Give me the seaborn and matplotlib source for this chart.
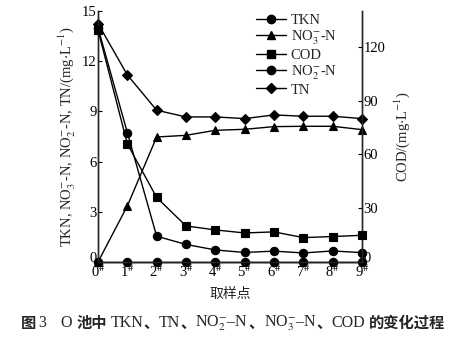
import matplotlib
matplotlib.use('Agg')
import matplotlib.pyplot as plt
import matplotlib.transforms as mtransforms
import seaborn as sns
import pandas as pd

# ---- data ----
sites = ['0', '1', '2', '3', '4', '5', '6', '7', '8', '9']
tkn = [14.0, 7.73, 1.54, 1.05, 0.72, 0.57, 0.65, 0.54, 0.66, 0.56]
no3 = [0.0, 3.35, 7.47, 7.57, 7.87, 7.93, 8.09, 8.11, 8.11, 7.91]
cod = [129.4, 65.9, 36.0, 20.1, 17.9, 16.2, 16.8, 13.6, 14.2, 14.9]
no2 = [0.0, 0.0, 0.0, 0.0, 0.0, 0.0, 0.0, 0.0, 0.0, 0.0]
tn = [14.25, 11.18, 9.07, 8.67, 8.67, 8.57, 8.79, 8.71, 8.71, 8.57]
left_ticks = [0, 3, 6, 9, 12, 15]
right_ticks = [0, 30, 60, 90, 120]

sns.set_theme(style='ticks')
plt.rcParams['font.family'] = ['Liberation Serif', 'Noto Sans CJK SC']
plt.rcParams['mathtext.fontset'] = 'stix'
plt.rcParams['xtick.direction'] = 'in'
plt.rcParams['ytick.direction'] = 'in'

xpos = list(range(len(sites)))
df = pd.DataFrame({'x': xpos, 'TKN': tkn, 'NO3': no3, 'COD': cod, 'NO2': no2, 'TN': tn})

fig = plt.figure(figsize=(4.66, 3.46), dpi=100)
ax = fig.add_axes([98/466, 1-262/346, (362-98)/466, (262-11)/346])
ax2 = ax.twinx()

kw = dict(color='black', linewidth=1.0, clip_on=False, markeredgewidth=0.8,
          markeredgecolor='black')
sns.lineplot(data=df, x='x', y='NO2', ax=ax, marker='o', markersize=6, zorder=3, **kw)
sns.lineplot(data=df, x='x', y='TKN', ax=ax, marker='o', markersize=6, zorder=4, **kw)
sns.lineplot(data=df, x='x', y='NO3', ax=ax, marker='^', markersize=6, zorder=4, **kw)
sns.lineplot(data=df, x='x', y='TN', ax=ax, marker='D', markersize=5.5, zorder=4, **kw)
sns.lineplot(data=df, x='x', y='COD', ax=ax2, marker='s', markersize=6, zorder=4, **kw)

ax.set_xlim(0, 9)
ax.set_ylim(0, 15)
ax2.set_ylim(0, 140)
ax.set_yticks(left_ticks)
ax.set_yticklabels([str(t) for t in left_ticks])
ax2.set_yticks(right_ticks)
ax2.set_yticklabels([str(t) for t in right_ticks])
ax.set_xticks(xpos)
ax.set_xticklabels([s + r'$^{\#}$' for s in sites])

for a in (ax, ax2):
    a.spines['top'].set_visible(False)
    a.spines['left'].set_linewidth(1.0)
    a.spines['right'].set_linewidth(1.0)
    a.spines['bottom'].set_linewidth(1.0)
    a.tick_params(labelsize=10.5, length=3, width=0.8, pad=1, colors='black')
ax.tick_params(axis='x', pad=1)

# lift the "0" labels slightly, as in the reference
shift = mtransforms.ScaledTranslation(0, 5/100, fig.dpi_scale_trans)
for lab in (ax.get_yticklabels()[0], ax2.get_yticklabels()[0]):
    lab.set_transform(lab.get_transform() + shift)

ax.set_xlabel('取样点', fontsize=10, family=['Noto Sans CJK SC'], labelpad=5)
ax.set_ylabel(r'TKN, NO$_3^{-}$-N, NO$_2^{-}$-N, TN/(mg$\cdot$L$^{-1}$)', fontsize=10.5, labelpad=3)
ax2.set_ylabel(r'COD/(mg$\cdot$L$^{-1}$)', fontsize=10.5, labelpad=5)

from matplotlib.lines import Line2D
def h(m, ms):
    return Line2D([], [], color='black', marker=m, markersize=ms, linewidth=1.0)
handles = [h('o', 6), h('^', 6), h('s', 6), h('o', 6), h('D', 5.5)]
labels = ['TKN', r'NO$_3^{-}$-N', 'COD', r'NO$_2^{-}$-N', 'TN']
leg = ax2.legend(handles, labels, loc='upper left', bbox_to_anchor=(0.60, 0.99),
                 frameon=False, fontsize=10.5, handlelength=2.0, handletextpad=0.35,
                 labelspacing=0.12, borderpad=0, borderaxespad=0)

# ---- caption, laid out piece by piece (CJK bold sans, Latin serif) ----
cjk = dict(family=['Noto Sans CJK SC'], weight='bold', fontsize=11)
lat = dict(family=['Liberation Serif'], weight='normal', fontsize=11.5)
pieces = [('图', cjk, 3), ('3', lat, 14), ('O', lat, 4), ('池中', cjk, 4),
          ('TKN', lat, 0), ('、', cjk, 0), ('TN', lat, 0), ('、', cjk, 0),
          (r'NO$_2^{-}$–N', lat, 0), ('、', cjk, 0), (r'NO$_3^{-}$–N', lat, 0),
          ('、', cjk, 0), ('COD', lat, 4), ('的变化过程', cjk, 0)]
renderer = fig.canvas.get_renderer()
ycap = 1 - 323/346
texts = []
xcur = 0.0
for s, style, gap in pieces:
    t = fig.text(xcur, ycap, s, ha='left', va='center', **style)
    w = t.get_window_extent(renderer).width / fig.bbox.width
    texts.append((t, xcur))
    xcur += w + gap / fig.bbox.width
total = xcur
x0 = 0.5 - total / 2
for t, xo in texts:
    t.set_x(x0 + xo)

fig.savefig('out.png', dpi=100)
